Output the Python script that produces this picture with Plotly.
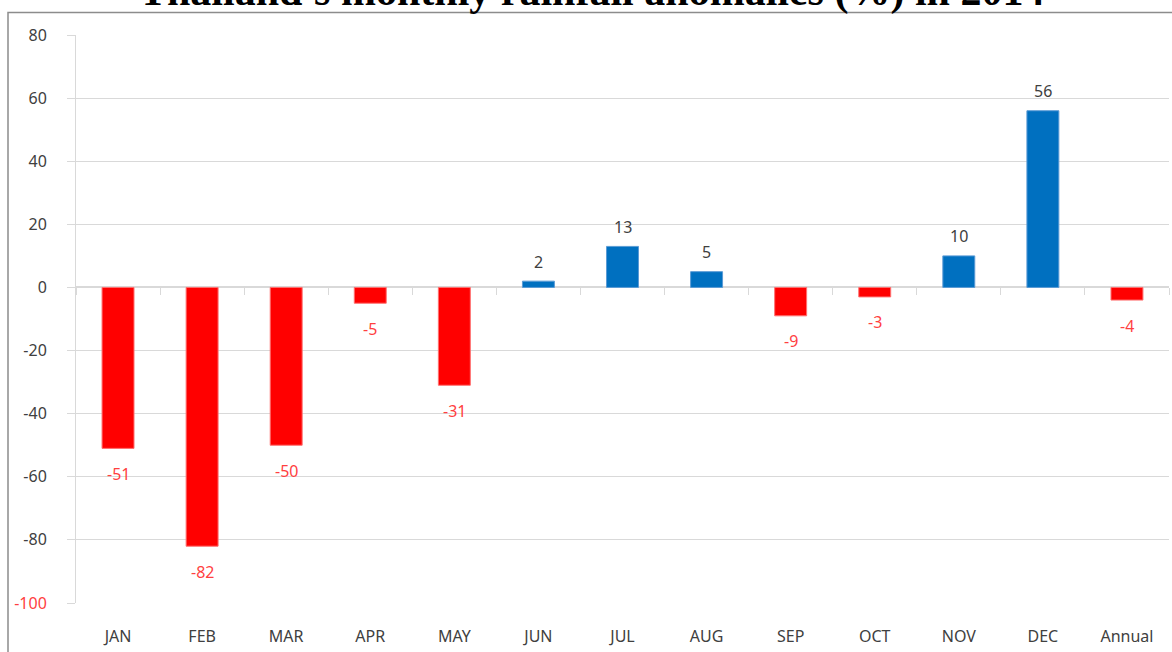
import plotly.graph_objects as go

categories = ["JAN", "FEB", "MAR", "APR", "MAY", "JUN", "JUL", "AUG", "SEP", "OCT", "NOV", "DEC", "Annual"]
anomalies = [-51, -82, -50, -5, -31, 2, 13, 5, -9, -3, 10, 56, -4]
y_ticks = [80, 60, 40, 20, 0, -20, -40, -60, -80, -100]
title_text = "Thailand's monthly rainfall anomalies (%) in 2014"

NEG = "#ff0000"
POS = "#0070c0"
NEG_LABEL = "#ff3f3f"
POS_LABEL = "#404040"
GRID = "#d9d9d9"
FONT = "Noto Sans"

bar_colors = [NEG if v < 0 else POS for v in anomalies]
line_colors = ["#ff7070" if v < 0 else "#5b9bd5" for v in anomalies]

fig = go.Figure()
fig.add_trace(go.Bar(
    x=categories, y=anomalies,
    marker=dict(color=bar_colors, line=dict(color=line_colors, width=1)),
    showlegend=False, hoverinfo="skip",
))
# helper trace for the category boundary ticks on the zero line
fig.add_trace(go.Scatter(
    x=categories, y=anomalies, xaxis="x2", mode="markers",
    marker=dict(opacity=0), showlegend=False, hoverinfo="skip",
))

for c, v in zip(categories, anomalies):
    fig.add_annotation(
        x=c, y=v, text=str(v), showarrow=False,
        yanchor="middle", yshift=(19.5 if v >= 0 else -25.5),
        font=dict(family=FONT, size=16, color=(POS_LABEL if v >= 0 else NEG_LABEL)),
    )

tick_text = [
    f'<span style="color:{NEG_LABEL}">{t}</span>' if t == -100 else str(t)
    for t in y_ticks
]

fig.add_annotation(
    xref="paper", yref="paper", x=(591 - 76) / 1093, y=1 + 43.5 / 568,
    text=f"<b>{title_text}</b>", showarrow=False, xanchor="center", yanchor="middle",
    font=dict(family="Liberation Serif", size=42, color="#000000"),
)

# outer chart frame (partially cropped)
fig.add_shape(
    type="rect", xref="paper", yref="paper",
    x0=(8 - 76) / 1093, x1=(1200 - 76) / 1093,
    y0=(603 - 680) / 568, y1=(603 - 12.5) / 568,
    line=dict(color="#8c8c8c", width=1.5), fillcolor="rgba(0,0,0,0)", layer="above",
)

fig.update_layout(
    width=1172, height=652,
    margin=dict(l=76, r=3, t=35, b=49),
    paper_bgcolor="white", plot_bgcolor="white",
    bargap=0.62,
    font=dict(family=FONT, size=16, color=POS_LABEL),
    xaxis=dict(
        type="category", range=[-0.5, 12.5], showgrid=False, showline=False,
        zeroline=False, ticks="", ticklabelstandoff=22,
        tickfont=dict(family=FONT, size=16, color=POS_LABEL),
    ),
    xaxis2=dict(
        type="category", range=[-0.5, 12.5], overlaying="x", anchor="free",
        position=100 / 180, side="bottom", showgrid=False, showline=False,
        zeroline=False, showticklabels=False, ticks="outside", tickson="boundaries",
        ticklen=7, tickcolor=GRID, tickwidth=1,
    ),
    yaxis=dict(
        range=[-100, 80], tickvals=y_ticks, ticktext=tick_text,
        showgrid=True, gridcolor=GRID, gridwidth=1,
        zeroline=True, zerolinecolor=GRID, zerolinewidth=1.5,
        showline=True, linecolor=GRID, linewidth=1,
        ticks="outside", ticklen=8, tickcolor=GRID,
        ticklabelstandoff=17,
        tickfont=dict(family=FONT, size=16, color=POS_LABEL),
    ),
)

fig.write_html(
    "out.html",
    config={"displayModeBar": False},
    post_script="document.body.style.margin='0';document.body.style.overflow='hidden';",
)
